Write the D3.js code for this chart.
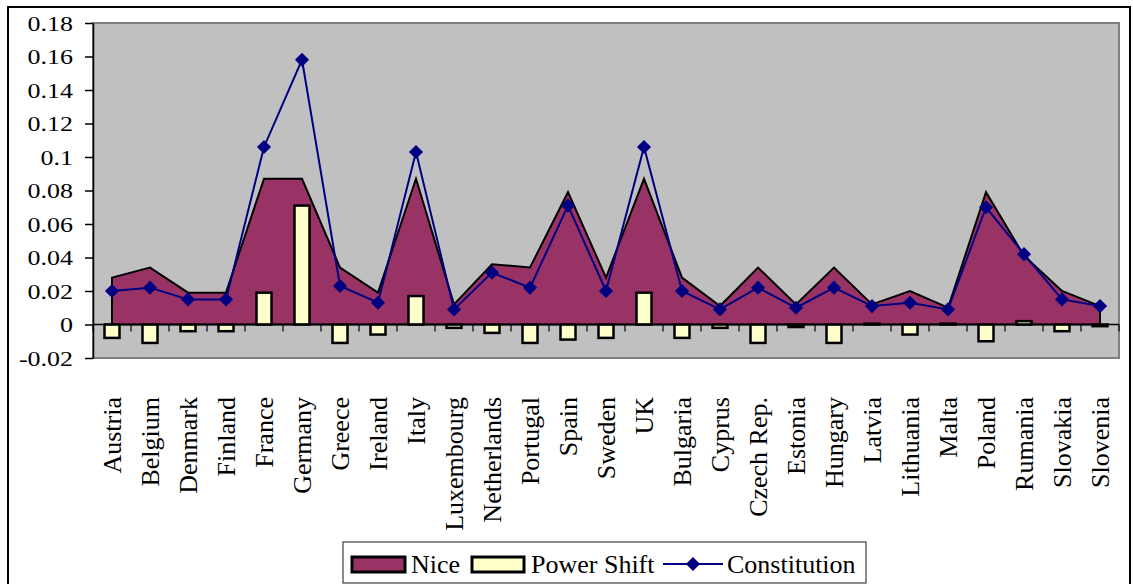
<!DOCTYPE html>
<html>
<head>
<meta charset="utf-8">
<script src="https://cdn.jsdelivr.net/npm/d3@7"></script>
<style>
  body { margin: 0; background: #fff; }
</style>
</head>
<body>
<svg width="1133" height="584"></svg>
<script>

var countries = ["Austria", "Belgium", "Denmark", "Finland", "France", "Germany", "Greece", "Ireland", "Italy",
  "Luxembourg", "Netherlands", "Portugal", "Spain", "Sweden", "UK", "Bulgaria", "Cyprus", "Czech Rep.",
  "Estonia", "Hungary", "Latvia", "Lithuania", "Malta", "Poland", "Rumania", "Slovakia", "Slovenia"];

var nice = [0.028, 0.034, 0.019, 0.019, 0.087, 0.087, 0.034, 0.019, 0.087,
  0.012, 0.036, 0.034, 0.079, 0.028, 0.087, 0.028, 0.011, 0.034,
  0.012, 0.034, 0.012, 0.020, 0.010, 0.079, 0.041, 0.020, 0.011];

var powerShift = [-0.008, -0.011, -0.004, -0.004, 0.019, 0.071, -0.011, -0.006, 0.017,
  -0.002, -0.005, -0.011, -0.009, -0.008, 0.019, -0.008, -0.002, -0.011,
  -0.0015, -0.011, 0.0005, -0.006, 0.0005, -0.010, 0.002, -0.004, -0.001];

var constitution = [0.020, 0.022, 0.015, 0.015, 0.106, 0.158, 0.023, 0.013, 0.103,
  0.009, 0.031, 0.022, 0.071, 0.020, 0.106, 0.020, 0.009, 0.022,
  0.010, 0.022, 0.011, 0.013, 0.009, 0.070, 0.042, 0.015, 0.011];

var yTickValues = [-0.02, 0, 0.02, 0.04, 0.06, 0.08, 0.1, 0.12, 0.14, 0.16, 0.18];
var yTickLabels = ["-0.02", "0", "0.02", "0.04", "0.06", "0.08", "0.1", "0.12", "0.14", "0.16", "0.18"];

var legendNames = ["Nice", "Power Shift", "Constitution"];

var serif = "'Liberation Serif', 'Times New Roman', serif";

var svg = d3.select("svg");

var plotLeft = 93, plotRight = 1119, plotTop = 23, plotBottom = 358;

var x = d3.scaleBand().domain(countries).range([plotLeft, plotRight]);
var y = d3.scaleLinear().domain([-0.02, 0.18]).range([plotBottom, plotTop]);

var cx = function (i) { return x(countries[i]) + x.bandwidth() / 2; };

// outer frame
svg.append("rect")
  .attr("x", 8).attr("y", 7)
  .attr("width", 1122).attr("height", 600)
  .attr("fill", "#fff")
  .attr("stroke", "#000")
  .attr("stroke-width", 2);

// plot area
svg.append("rect")
  .attr("x", plotLeft).attr("y", plotTop)
  .attr("width", plotRight - plotLeft).attr("height", plotBottom - plotTop)
  .attr("fill", "#c0c0c0")
  .attr("stroke", "#808080")
  .attr("stroke-width", 2);

// Nice area
var area = d3.area()
  .x(function (d, i) { return cx(i); })
  .y0(y(0))
  .y1(function (d) { return y(d); });

svg.append("path")
  .datum(nice)
  .attr("d", area)
  .attr("fill", "#993366")
  .attr("stroke", "#000")
  .attr("stroke-width", 2);

// Power Shift bars
var barW = 15;
svg.append("g").selectAll("rect")
  .data(powerShift)
  .join("rect")
  .attr("x", function (d, i) { return cx(i) - barW / 2; })
  .attr("y", function (d) { return y(Math.max(0, d)); })
  .attr("width", barW)
  .attr("height", function (d) { return Math.abs(y(d) - y(0)); })
  .attr("fill", "#ffffcc")
  .attr("stroke", "#000")
  .attr("stroke-width", 2.5);

// y axis
var yAxis = svg.append("g")
  .attr("transform", "translate(" + plotLeft + ",0)")
  .call(d3.axisLeft(y).tickValues(yTickValues).tickSize(8).tickSizeOuter(0)
    .tickFormat(function (d, i) { return yTickLabels[i]; }));
yAxis.select(".domain").attr("stroke", "#000").attr("stroke-width", 1.5);
yAxis.selectAll("line").attr("stroke", "#000").attr("stroke-width", 1.5);
yAxis.selectAll("text")
  .attr("x", -17)
  .attr("dy", "0.34em")
  .attr("transform", "scale(1.18,1)")
  .style("font-size", "22px")
  .style("font-family", serif)
  .style("fill", "#000");

// zero line with category ticks
svg.append("line")
  .attr("x1", plotLeft).attr("x2", plotRight)
  .attr("y1", y(0)).attr("y2", y(0))
  .attr("stroke", "#000").attr("stroke-width", 1.5);

var bounds = countries.map(function (c) { return x(c); }).concat([plotRight]);
svg.append("g").selectAll("line")
  .data(bounds)
  .join("line")
  .attr("x1", function (d) { return d; }).attr("x2", function (d) { return d; })
  .attr("y1", y(0)).attr("y2", y(0) + 7)
  .attr("stroke", "#000").attr("stroke-width", 1.2);

// Constitution line
var line = d3.line()
  .x(function (d, i) { return cx(i); })
  .y(function (d) { return y(d); });

svg.append("path")
  .datum(constitution)
  .attr("d", line)
  .attr("fill", "none")
  .attr("stroke", "#000080")
  .attr("stroke-width", 2);

var diamond = d3.symbol().type(d3.symbolSquare).size(100);
svg.append("g").selectAll("path")
  .data(constitution)
  .join("path")
  .attr("d", diamond)
  .attr("transform", function (d, i) { return "translate(" + cx(i) + "," + y(d) + ") rotate(45)"; })
  .attr("fill", "#000080");

// category labels
svg.append("g").selectAll("text")
  .data(countries)
  .join("text")
  .attr("transform", function (d) { return "translate(" + (x(d) + x.bandwidth() / 2) + ",397) rotate(-90)"; })
  .attr("text-anchor", "end")
  .attr("dy", "0.35em")
  .style("font-family", serif)
  .style("font-size", "26px")
  .style("fill", "#000")
  .text(function (d) { return d; });

// legend
var lg = svg.append("g");
lg.append("rect")
  .attr("x", 343).attr("y", 542)
  .attr("width", 523).attr("height", 41)
  .attr("fill", "#fff")
  .attr("stroke", "#404040")
  .attr("stroke-width", 1.2);

lg.append("rect")
  .attr("x", 352).attr("y", 557).attr("width", 53).attr("height", 15)
  .attr("fill", "#993366").attr("stroke", "#000").attr("stroke-width", 3);
lg.append("rect")
  .attr("x", 472).attr("y", 557).attr("width", 52).attr("height", 15)
  .attr("fill", "#ffffcc").attr("stroke", "#000").attr("stroke-width", 3);
lg.append("line")
  .attr("x1", 663).attr("x2", 723).attr("y1", 564).attr("y2", 564)
  .attr("stroke", "#000080").attr("stroke-width", 2);
lg.append("path")
  .attr("d", diamond)
  .attr("transform", "translate(693,564) rotate(45)")
  .attr("fill", "#000080");

var legendX = [411, 531, 727];
lg.selectAll("text.leg")
  .data(legendNames)
  .join("text")
  .attr("class", "leg")
  .attr("x", function (d, i) { return legendX[i]; })
  .attr("y", 573)
  .style("font-family", serif)
  .style("font-size", "26px")
  .style("fill", "#000")
  .text(function (d) { return d; });

</script>
</body>
</html>
